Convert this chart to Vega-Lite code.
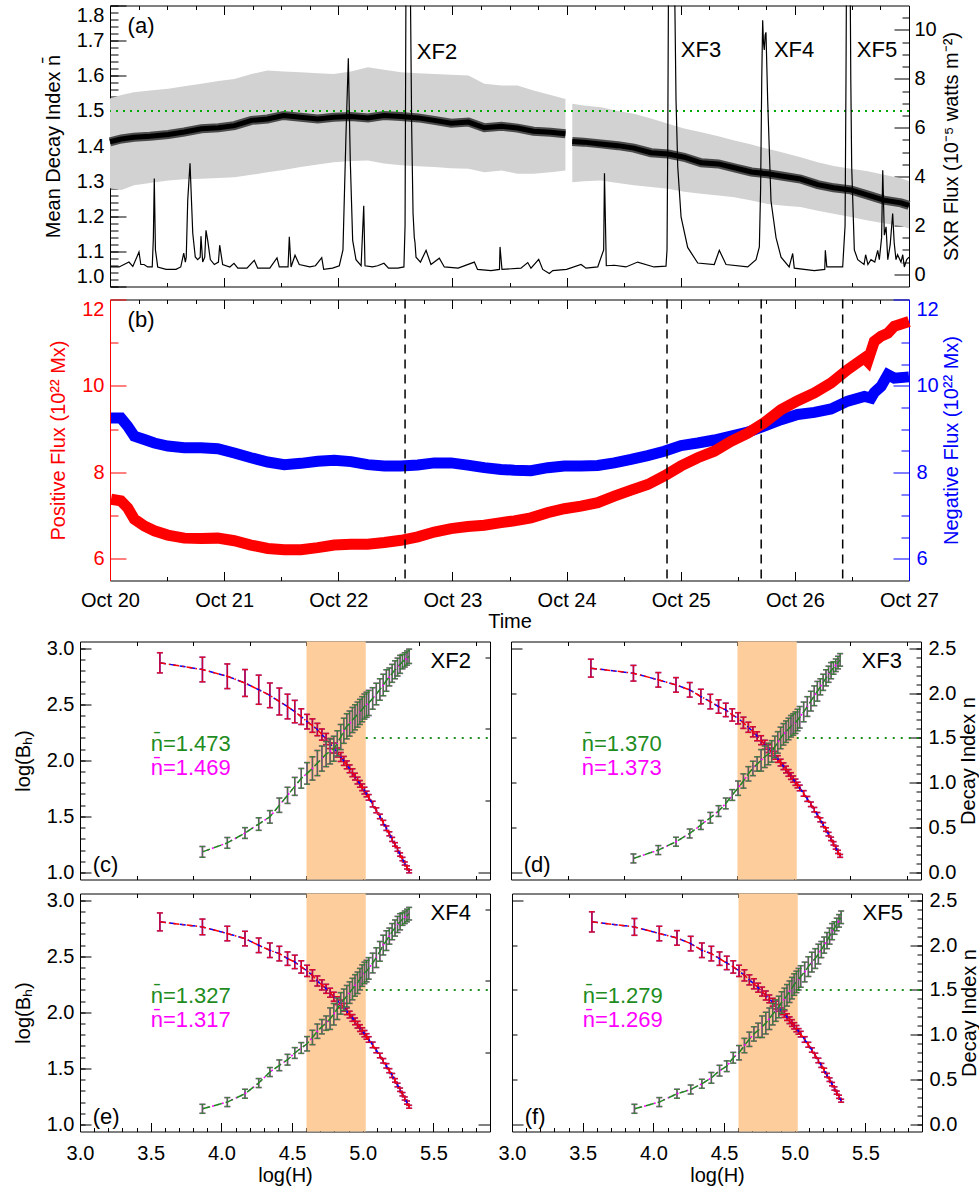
{
"$schema": "https://vega.github.io/schema/vega-lite/v6.json",
"padding": {"left": 5, "top": 4.5, "right": 3, "bottom": 5},
"config": {
  "font": "Liberation Sans",
  "view": {"stroke": "black", "strokeWidth": 1},
  "axis": {"grid": false, "domain": false, "labelFont": "Liberation Sans", "titleFont": "Liberation Sans", "labelFontSize": 20, "titleFontSize": 20, "titleFontWeight": "normal", "labelColor": "black", "titleColor": "black", "tickColor": "black", "tickWidth": 1, "labelBound": false, "labelOverlap": false},
  "text": {"font": "Liberation Sans"}
},
"datasets": {
"fa": [{"t":0,"m":1.412,"lo":1.28,"hi":1.535,"s":1},{"t":0.1,"m":1.42,"lo":1.275,"hi":1.545,"s":1},{"t":0.21,"m":1.425,"lo":1.288,"hi":1.553,"s":1},{"t":0.35,"m":1.428,"lo":1.295,"hi":1.558,"s":1},{"t":0.51,"m":1.433,"lo":1.302,"hi":1.563,"s":1},{"t":0.65,"m":1.44,"lo":1.305,"hi":1.57,"s":1},{"t":0.8,"m":1.449,"lo":1.307,"hi":1.577,"s":1},{"t":0.95,"m":1.452,"lo":1.309,"hi":1.585,"s":1},{"t":1.09,"m":1.458,"lo":1.311,"hi":1.591,"s":1},{"t":1.24,"m":1.473,"lo":1.318,"hi":1.605,"s":1},{"t":1.38,"m":1.477,"lo":1.325,"hi":1.615,"s":1},{"t":1.52,"m":1.487,"lo":1.332,"hi":1.612,"s":1},{"t":1.67,"m":1.482,"lo":1.34,"hi":1.61,"s":1},{"t":1.82,"m":1.477,"lo":1.347,"hi":1.607,"s":1},{"t":1.96,"m":1.482,"lo":1.354,"hi":1.605,"s":1},{"t":2.11,"m":1.484,"lo":1.357,"hi":1.612,"s":1},{"t":2.26,"m":1.48,"lo":1.359,"hi":1.624,"s":1},{"t":2.4,"m":1.487,"lo":1.35,"hi":1.617,"s":1},{"t":2.55,"m":1.484,"lo":1.345,"hi":1.61,"s":1},{"t":2.7,"m":1.48,"lo":1.342,"hi":1.607,"s":1},{"t":2.84,"m":1.473,"lo":1.34,"hi":1.605,"s":1},{"t":2.99,"m":1.465,"lo":1.337,"hi":1.603,"s":1},{"t":3.14,"m":1.468,"lo":1.335,"hi":1.601,"s":1},{"t":3.28,"m":1.452,"lo":1.325,"hi":1.577,"s":1},{"t":3.43,"m":1.456,"lo":1.33,"hi":1.572,"s":1},{"t":3.57,"m":1.451,"lo":1.321,"hi":1.572,"s":1},{"t":3.71,"m":1.442,"lo":1.321,"hi":1.558,"s":1},{"t":3.86,"m":1.439,"lo":1.325,"hi":1.545,"s":1},{"t":3.99,"m":1.435,"lo":1.33,"hi":1.534,"s":1},{"t":4.05,"m":1.413,"lo":1.297,"hi":1.52,"s":2},{"t":4.15,"m":1.411,"lo":1.3,"hi":1.515,"s":2},{"t":4.3,"m":1.406,"lo":1.302,"hi":1.51,"s":2},{"t":4.45,"m":1.401,"lo":1.295,"hi":1.5,"s":2},{"t":4.59,"m":1.394,"lo":1.288,"hi":1.492,"s":2},{"t":4.74,"m":1.381,"lo":1.283,"hi":1.478,"s":2},{"t":4.89,"m":1.377,"lo":1.278,"hi":1.463,"s":2},{"t":5.03,"m":1.368,"lo":1.27,"hi":1.45,"s":2},{"t":5.18,"m":1.352,"lo":1.264,"hi":1.439,"s":2},{"t":5.33,"m":1.349,"lo":1.259,"hi":1.428,"s":2},{"t":5.47,"m":1.338,"lo":1.254,"hi":1.416,"s":2},{"t":5.62,"m":1.326,"lo":1.245,"hi":1.404,"s":2},{"t":5.76,"m":1.321,"lo":1.235,"hi":1.392,"s":2},{"t":5.91,"m":1.313,"lo":1.23,"hi":1.38,"s":2},{"t":6.05,"m":1.306,"lo":1.226,"hi":1.368,"s":2},{"t":6.2,"m":1.29,"lo":1.216,"hi":1.354,"s":2},{"t":6.34,"m":1.281,"lo":1.207,"hi":1.343,"s":2},{"t":6.49,"m":1.275,"lo":1.198,"hi":1.335,"s":2},{"t":6.64,"m":1.26,"lo":1.188,"hi":1.328,"s":2},{"t":6.78,"m":1.246,"lo":1.18,"hi":1.318,"s":2},{"t":6.93,"m":1.238,"lo":1.172,"hi":1.308,"s":2},{"t":7,"m":1.231,"lo":1.165,"hi":1.3,"s":2}],
"sxr": [{"t":0,"f":0.3},{"t":0.08,"f":0.3},{"t":0.166,"f":0.5},{"t":0.2,"f":0.32},{"t":0.254,"f":0.91},{"t":0.27,"f":0.4},{"t":0.298,"f":0.4},{"t":0.33,"f":0.3},{"t":0.37,"f":0.3},{"t":0.38,"f":1.5},{"t":0.388,"f":3.92},{"t":0.398,"f":1.0},{"t":0.418,"f":0.3},{"t":0.491,"f":0.2},{"t":0.578,"f":0.2},{"t":0.62,"f":0.3},{"t":0.646,"f":0.87},{"t":0.66,"f":0.5},{"t":0.668,"f":0.7},{"t":0.681,"f":3.03},{"t":0.701,"f":4.54},{"t":0.725,"f":1.68},{"t":0.747,"f":0.71},{"t":0.768,"f":0.6},{"t":0.79,"f":0.7},{"t":0.797,"f":1.56},{"t":0.812,"f":0.5},{"t":0.83,"f":0.7},{"t":0.841,"f":1.8},{"t":0.856,"f":1.39},{"t":0.879,"f":0.6},{"t":0.914,"f":0.4},{"t":0.95,"f":0.5},{"t":0.961,"f":1.19},{"t":0.987,"f":0.4},{"t":1.05,"f":0.3},{"t":1.086,"f":0.45},{"t":1.12,"f":0.25},{"t":1.2,"f":0.25},{"t":1.264,"f":0.57},{"t":1.294,"f":0.25},{"t":1.4,"f":0.25},{"t":1.463,"f":0.67},{"t":1.483,"f":0.3},{"t":1.56,"f":0.3},{"t":1.571,"f":1.53},{"t":1.586,"f":0.3},{"t":1.621,"f":0.78},{"t":1.658,"f":0.4},{"t":1.75,"f":0.3},{"t":1.8,"f":0.35},{"t":1.855,"f":0.68},{"t":1.872,"f":0.2},{"t":1.95,"f":0.25},{"t":2.009,"f":0.35},{"t":2.041,"f":1.0},{"t":2.068,"f":5.8},{"t":2.088,"f":8.84},{"t":2.105,"f":4.67},{"t":2.126,"f":1.39},{"t":2.155,"f":0.6},{"t":2.2,"f":0.35},{"t":2.223,"f":2.8},{"t":2.234,"f":0.35},{"t":2.3,"f":0.3},{"t":2.345,"f":0.35},{"t":2.4,"f":0.45},{"t":2.44,"f":0.25},{"t":2.521,"f":0.25},{"t":2.575,"f":0.3},{"t":2.585,"f":2.0},{"t":2.593,"f":12},{"t":2.611,"f":16},{"t":2.631,"f":12},{"t":2.643,"f":6},{"t":2.655,"f":2.5},{"t":2.666,"f":1.5},{"t":2.672,"f":1.3},{"t":2.681,"f":0.7},{"t":2.72,"f":0.5},{"t":2.769,"f":0.98},{"t":2.812,"f":0.4},{"t":2.885,"f":0.66},{"t":2.929,"f":0.3},{"t":3.05,"f":0.25},{"t":3.192,"f":0.5},{"t":3.22,"f":0.2},{"t":3.338,"f":0.15},{"t":3.412,"f":0.2},{"t":3.417,"f":1.12},{"t":3.434,"f":0.2},{"t":3.6,"f":0.25},{"t":3.66,"f":0.48},{"t":3.688,"f":0.25},{"t":3.756,"f":0.61},{"t":3.791,"f":0.2},{"t":3.849,"f":0.03},{"t":3.879,"f":0.15},{"t":4.0,"f":0.2},{"t":4.127,"f":0.4},{"t":4.17,"f":0.25},{"t":4.273,"f":0.3},{"t":4.325,"f":1.0},{"t":4.332,"f":4.13},{"t":4.348,"f":0.35},{"t":4.418,"f":0.37},{"t":4.52,"f":0.3},{"t":4.623,"f":0.5},{"t":4.766,"f":0.3},{"t":4.871,"f":0.33},{"t":4.88,"f":1.0},{"t":4.886,"f":5.0},{"t":4.895,"f":14},{"t":4.915,"f":31},{"t":4.941,"f":14},{"t":4.959,"f":7.1},{"t":4.974,"f":4.4},{"t":5.003,"f":2.35},{"t":5.061,"f":1.1},{"t":5.149,"f":0.46},{"t":5.294,"f":0.4},{"t":5.338,"f":0.98},{"t":5.397,"f":0.4},{"t":5.587,"f":0.3},{"t":5.66,"f":0.6},{"t":5.689,"f":1.12},{"t":5.7,"f":3.5},{"t":5.71,"f":8.0},{"t":5.718,"f":10.4},{"t":5.725,"f":9.5},{"t":5.732,"f":9.18},{"t":5.74,"f":9.8},{"t":5.747,"f":9.9},{"t":5.762,"f":7.1},{"t":5.791,"f":3.0},{"t":5.835,"f":1.5},{"t":5.879,"f":0.7},{"t":5.95,"f":0.3},{"t":5.981,"f":0.85},{"t":5.995,"f":0.25},{"t":6.17,"f":0.15},{"t":6.262,"f":0.2},{"t":6.267,"f":0.98},{"t":6.28,"f":0.3},{"t":6.419,"f":0.3},{"t":6.44,"f":2.0},{"t":6.448,"f":8.0},{"t":6.46,"f":20},{"t":6.474,"f":20},{"t":6.49,"f":8.0},{"t":6.498,"f":4.4},{"t":6.521,"f":1.0},{"t":6.551,"f":0.6},{"t":6.606,"f":0.4},{"t":6.62,"f":0.8},{"t":6.64,"f":0.4},{"t":6.667,"f":0.6},{"t":6.7,"f":0.5},{"t":6.726,"f":0.98},{"t":6.74,"f":0.6},{"t":6.76,"f":1.5},{"t":6.77,"f":4.26},{"t":6.784,"f":1.6},{"t":6.799,"f":1.94},{"t":6.814,"f":0.6},{"t":6.835,"f":1.2},{"t":6.857,"f":2.49},{"t":6.87,"f":1.3},{"t":6.886,"f":0.6},{"t":6.9,"f":0.8},{"t":6.93,"f":0.5},{"t":6.945,"f":0.8},{"t":6.959,"f":0.3},{"t":6.98,"f":0.6},{"t":7,"f":0.7}],
"fb": [{"t":0.009,"pos":7.38,"neg":9.26},{"t":0.096,"pos":7.34,"neg":9.26},{"t":0.155,"pos":7.18,"neg":9.07},{"t":0.213,"pos":6.92,"neg":8.84},{"t":0.301,"pos":6.76,"neg":8.76},{"t":0.388,"pos":6.65,"neg":8.68},{"t":0.506,"pos":6.55,"neg":8.61},{"t":0.651,"pos":6.48,"neg":8.57},{"t":0.797,"pos":6.47,"neg":8.57},{"t":0.944,"pos":6.48,"neg":8.55},{"t":1.089,"pos":6.42,"neg":8.45},{"t":1.235,"pos":6.32,"neg":8.34},{"t":1.382,"pos":6.24,"neg":8.24},{"t":1.527,"pos":6.21,"neg":8.18},{"t":1.673,"pos":6.21,"neg":8.21},{"t":1.82,"pos":6.26,"neg":8.26},{"t":1.965,"pos":6.32,"neg":8.28},{"t":2.111,"pos":6.34,"neg":8.25},{"t":2.258,"pos":6.34,"neg":8.18},{"t":2.403,"pos":6.38,"neg":8.15},{"t":2.549,"pos":6.43,"neg":8.15},{"t":2.696,"pos":6.51,"neg":8.17},{"t":2.841,"pos":6.62,"neg":8.22},{"t":2.988,"pos":6.7,"neg":8.22},{"t":3.134,"pos":6.75,"neg":8.17},{"t":3.279,"pos":6.78,"neg":8.11},{"t":3.426,"pos":6.84,"neg":8.07},{"t":3.542,"pos":6.88,"neg":8.05},{"t":3.688,"pos":6.95,"neg":8.04},{"t":3.835,"pos":7.07,"neg":8.11},{"t":3.98,"pos":7.16,"neg":8.15},{"t":4.126,"pos":7.22,"neg":8.15},{"t":4.273,"pos":7.3,"neg":8.16},{"t":4.418,"pos":7.45,"neg":8.22},{"t":4.565,"pos":7.59,"neg":8.3},{"t":4.711,"pos":7.72,"neg":8.39},{"t":4.856,"pos":7.92,"neg":8.49},{"t":5.003,"pos":8.15,"neg":8.62},{"t":5.149,"pos":8.34,"neg":8.68},{"t":5.294,"pos":8.49,"neg":8.75},{"t":5.441,"pos":8.72,"neg":8.84},{"t":5.587,"pos":8.91,"neg":8.93},{"t":5.732,"pos":9.15,"neg":9.07},{"t":5.879,"pos":9.45,"neg":9.22},{"t":6.025,"pos":9.66,"neg":9.34},{"t":6.171,"pos":9.84,"neg":9.39},{"t":6.317,"pos":10.07,"neg":9.47},{"t":6.463,"pos":10.38,"neg":9.65},{"t":6.609,"pos":10.65,"neg":9.76},{"t":6.638,"pos":10.57,"neg":9.74},{"t":6.667,"pos":10.8,"neg":9.72},{"t":6.696,"pos":11.03,"neg":9.85},{"t":6.755,"pos":11.15,"neg":9.99},{"t":6.814,"pos":11.22,"neg":10.26},{"t":6.871,"pos":11.38,"neg":10.18},{"t":7,"pos":11.49,"neg":10.21}],
"pc": [{"h":3.565,"b":2.87,"be":0.09},{"h":3.866,"b":2.81,"be":0.11,"n":0.23,"ne":0.06},{"h":4.042,"b":2.75,"be":0.11,"n":0.33,"ne":0.06},{"h":4.167,"b":2.69,"be":0.12,"n":0.44,"ne":0.06},{"h":4.264,"b":2.63,"be":0.13,"n":0.54,"ne":0.07},{"h":4.343,"b":2.58,"be":0.11,"n":0.62,"ne":0.07},{"h":4.41,"b":2.525,"be":0.12,"n":0.75,"ne":0.08},{"h":4.468,"b":2.48,"be":0.11,"n":0.86,"ne":0.09},{"h":4.519,"b":2.435,"be":0.1,"n":0.96,"ne":0.1},{"h":4.565,"b":2.39,"be":0.07,"n":1.05,"ne":0.11},{"h":4.606,"b":2.345,"be":0.065,"n":1.105,"ne":0.12},{"h":4.644,"b":2.31,"be":0.06,"n":1.16,"ne":0.13},{"h":4.679,"b":2.275,"be":0.055,"n":1.22,"ne":0.14},{"h":4.711,"b":2.23,"be":0.05,"n":1.27,"ne":0.14},{"h":4.741,"b":2.19,"be":0.05,"n":1.32,"ne":0.14},{"h":4.769,"b":2.15,"be":0.045,"n":1.35,"ne":0.14},{"h":4.795,"b":2.11,"be":0.045,"n":1.38,"ne":0.14},{"h":4.82,"b":2.07,"be":0.04,"n":1.44,"ne":0.14},{"h":4.844,"b":2.03,"be":0.04,"n":1.51,"ne":0.14},{"h":4.866,"b":1.995,"be":0.04,"n":1.58,"ne":0.14},{"h":4.887,"b":1.96,"be":0.035,"n":1.63,"ne":0.14},{"h":4.907,"b":1.925,"be":0.035,"n":1.66,"ne":0.14},{"h":4.927,"b":1.89,"be":0.035,"n":1.7,"ne":0.14},{"h":4.945,"b":1.855,"be":0.03,"n":1.73,"ne":0.14},{"h":4.963,"b":1.82,"be":0.03,"n":1.76,"ne":0.14},{"h":4.98,"b":1.79,"be":0.03,"n":1.79,"ne":0.14},{"h":4.996,"b":1.76,"be":0.03,"n":1.82,"ne":0.14},{"h":5.012,"b":1.73,"be":0.03,"n":1.85,"ne":0.14},{"h":5.027,"b":1.7,"be":0.025,"n":1.87,"ne":0.14},{"h":5.042,"b":1.67,"be":0.025,"n":1.89,"ne":0.14},{"h":5.07,"b":1.61,"be":0.025,"n":1.94,"ne":0.12},{"h":5.096,"b":1.555,"be":0.022,"n":1.99,"ne":0.12},{"h":5.121,"b":1.5,"be":0.02,"n":2.04,"ne":0.12},{"h":5.145,"b":1.445,"be":0.02,"n":2.09,"ne":0.12},{"h":5.167,"b":1.395,"be":0.02,"n":2.14,"ne":0.12},{"h":5.188,"b":1.345,"be":0.018,"n":2.18,"ne":0.1},{"h":5.208,"b":1.295,"be":0.018,"n":2.22,"ne":0.1},{"h":5.228,"b":1.25,"be":0.016,"n":2.26,"ne":0.1},{"h":5.246,"b":1.205,"be":0.016,"n":2.29,"ne":0.1},{"h":5.264,"b":1.16,"be":0.015,"n":2.32,"ne":0.1},{"h":5.281,"b":1.12,"be":0.015,"n":2.35,"ne":0.08},{"h":5.297,"b":1.08,"be":0.014,"n":2.37,"ne":0.08},{"h":5.313,"b":1.045,"be":0.014,"n":2.39,"ne":0.08},{"h":5.328,"b":1.01,"be":0.013,"n":2.41,"ne":0.08}],
"pd": [{"h":3.565,"b":2.822,"be":0.08},{"h":3.866,"b":2.777,"be":0.07,"n":0.157,"ne":0.05},{"h":4.042,"b":2.718,"be":0.065,"n":0.25,"ne":0.05},{"h":4.167,"b":2.673,"be":0.065,"n":0.343,"ne":0.05},{"h":4.264,"b":2.629,"be":0.065,"n":0.435,"ne":0.05},{"h":4.343,"b":2.569,"be":0.065,"n":0.53,"ne":0.05},{"h":4.41,"b":2.524,"be":0.065,"n":0.61,"ne":0.06},{"h":4.468,"b":2.48,"be":0.06,"n":0.685,"ne":0.06},{"h":4.519,"b":2.45,"be":0.06,"n":0.77,"ne":0.06},{"h":4.565,"b":2.405,"be":0.055,"n":0.864,"ne":0.06},{"h":4.606,"b":2.375,"be":0.05,"n":0.94,"ne":0.08},{"h":4.644,"b":2.335,"be":0.05,"n":1.02,"ne":0.08},{"h":4.679,"b":2.295,"be":0.045,"n":1.1,"ne":0.08},{"h":4.711,"b":2.255,"be":0.045,"n":1.16,"ne":0.08},{"h":4.741,"b":2.215,"be":0.04,"n":1.21,"ne":0.08},{"h":4.769,"b":2.18,"be":0.04,"n":1.25,"ne":0.12},{"h":4.795,"b":2.14,"be":0.04,"n":1.29,"ne":0.12},{"h":4.82,"b":2.105,"be":0.035,"n":1.32,"ne":0.12},{"h":4.844,"b":2.075,"be":0.035,"n":1.35,"ne":0.12},{"h":4.866,"b":2.045,"be":0.035,"n":1.4,"ne":0.12},{"h":4.887,"b":2.012,"be":0.03,"n":1.45,"ne":0.12},{"h":4.907,"b":1.98,"be":0.03,"n":1.5,"ne":0.12},{"h":4.927,"b":1.948,"be":0.03,"n":1.54,"ne":0.12},{"h":4.945,"b":1.918,"be":0.03,"n":1.57,"ne":0.12},{"h":4.963,"b":1.888,"be":0.03,"n":1.6,"ne":0.12},{"h":4.98,"b":1.86,"be":0.03,"n":1.63,"ne":0.12},{"h":4.996,"b":1.833,"be":0.028,"n":1.65,"ne":0.12},{"h":5.012,"b":1.805,"be":0.028,"n":1.67,"ne":0.12},{"h":5.027,"b":1.78,"be":0.025,"n":1.7,"ne":0.12},{"h":5.042,"b":1.754,"be":0.025,"n":1.73,"ne":0.12},{"h":5.07,"b":1.705,"be":0.025,"n":1.79,"ne":0.11},{"h":5.096,"b":1.656,"be":0.022,"n":1.85,"ne":0.11},{"h":5.121,"b":1.608,"be":0.02,"n":1.91,"ne":0.11},{"h":5.145,"b":1.56,"be":0.02,"n":1.97,"ne":0.11},{"h":5.167,"b":1.515,"be":0.02,"n":2.02,"ne":0.11},{"h":5.188,"b":1.47,"be":0.018,"n":2.07,"ne":0.09},{"h":5.208,"b":1.427,"be":0.018,"n":2.12,"ne":0.09},{"h":5.228,"b":1.383,"be":0.016,"n":2.17,"ne":0.09},{"h":5.246,"b":1.342,"be":0.016,"n":2.21,"ne":0.09},{"h":5.264,"b":1.3,"be":0.015,"n":2.25,"ne":0.09},{"h":5.281,"b":1.26,"be":0.015,"n":2.28,"ne":0.07},{"h":5.297,"b":1.222,"be":0.014,"n":2.31,"ne":0.07},{"h":5.313,"b":1.184,"be":0.014,"n":2.34,"ne":0.07},{"h":5.328,"b":1.148,"be":0.013,"n":2.37,"ne":0.07}],
"pe": [{"h":3.565,"b":2.807,"be":0.08},{"h":3.866,"b":2.762,"be":0.07,"n":0.175,"ne":0.05},{"h":4.042,"b":2.703,"be":0.065,"n":0.25,"ne":0.05},{"h":4.167,"b":2.658,"be":0.065,"n":0.343,"ne":0.05},{"h":4.264,"b":2.598,"be":0.065,"n":0.462,"ne":0.05},{"h":4.343,"b":2.554,"be":0.065,"n":0.585,"ne":0.05},{"h":4.41,"b":2.524,"be":0.065,"n":0.66,"ne":0.06},{"h":4.468,"b":2.479,"be":0.06,"n":0.722,"ne":0.06},{"h":4.519,"b":2.45,"be":0.06,"n":0.797,"ne":0.06},{"h":4.565,"b":2.405,"be":0.055,"n":0.853,"ne":0.06},{"h":4.606,"b":2.37,"be":0.05,"n":0.9,"ne":0.08},{"h":4.644,"b":2.33,"be":0.05,"n":0.97,"ne":0.08},{"h":4.679,"b":2.28,"be":0.045,"n":1.04,"ne":0.08},{"h":4.711,"b":2.245,"be":0.045,"n":1.09,"ne":0.08},{"h":4.741,"b":2.21,"be":0.04,"n":1.13,"ne":0.08},{"h":4.769,"b":2.175,"be":0.04,"n":1.18,"ne":0.12},{"h":4.795,"b":2.14,"be":0.04,"n":1.23,"ne":0.12},{"h":4.82,"b":2.105,"be":0.035,"n":1.29,"ne":0.12},{"h":4.844,"b":2.075,"be":0.035,"n":1.35,"ne":0.12},{"h":4.866,"b":2.045,"be":0.035,"n":1.39,"ne":0.12},{"h":4.887,"b":2.01,"be":0.03,"n":1.43,"ne":0.12},{"h":4.907,"b":1.98,"be":0.03,"n":1.47,"ne":0.12},{"h":4.927,"b":1.95,"be":0.03,"n":1.51,"ne":0.12},{"h":4.945,"b":1.92,"be":0.03,"n":1.55,"ne":0.12},{"h":4.963,"b":1.89,"be":0.03,"n":1.58,"ne":0.12},{"h":4.98,"b":1.86,"be":0.03,"n":1.62,"ne":0.12},{"h":4.996,"b":1.835,"be":0.028,"n":1.66,"ne":0.12},{"h":5.012,"b":1.81,"be":0.028,"n":1.69,"ne":0.12},{"h":5.027,"b":1.785,"be":0.025,"n":1.71,"ne":0.12},{"h":5.042,"b":1.758,"be":0.025,"n":1.74,"ne":0.12},{"h":5.07,"b":1.71,"be":0.025,"n":1.8,"ne":0.11},{"h":5.096,"b":1.662,"be":0.022,"n":1.86,"ne":0.11},{"h":5.121,"b":1.615,"be":0.02,"n":1.93,"ne":0.11},{"h":5.145,"b":1.568,"be":0.02,"n":2.0,"ne":0.11},{"h":5.167,"b":1.523,"be":0.02,"n":2.05,"ne":0.11},{"h":5.188,"b":1.48,"be":0.018,"n":2.1,"ne":0.09},{"h":5.208,"b":1.437,"be":0.018,"n":2.15,"ne":0.09},{"h":5.228,"b":1.393,"be":0.016,"n":2.19,"ne":0.09},{"h":5.246,"b":1.352,"be":0.016,"n":2.23,"ne":0.09},{"h":5.264,"b":1.31,"be":0.015,"n":2.26,"ne":0.09},{"h":5.281,"b":1.27,"be":0.015,"n":2.29,"ne":0.07},{"h":5.297,"b":1.232,"be":0.014,"n":2.31,"ne":0.07},{"h":5.313,"b":1.195,"be":0.014,"n":2.33,"ne":0.07},{"h":5.328,"b":1.158,"be":0.013,"n":2.35,"ne":0.07}],
"pf": [{"h":3.565,"b":2.807,"be":0.09},{"h":3.866,"b":2.762,"be":0.075,"n":0.175,"ne":0.05},{"h":4.042,"b":2.703,"be":0.065,"n":0.25,"ne":0.05},{"h":4.167,"b":2.664,"be":0.065,"n":0.343,"ne":0.05},{"h":4.264,"b":2.613,"be":0.065,"n":0.39,"ne":0.05},{"h":4.343,"b":2.554,"be":0.065,"n":0.454,"ne":0.05},{"h":4.41,"b":2.524,"be":0.065,"n":0.52,"ne":0.06},{"h":4.468,"b":2.479,"be":0.06,"n":0.6,"ne":0.06},{"h":4.519,"b":2.441,"be":0.06,"n":0.65,"ne":0.06},{"h":4.565,"b":2.405,"be":0.055,"n":0.744,"ne":0.06},{"h":4.606,"b":2.37,"be":0.05,"n":0.8,"ne":0.08},{"h":4.644,"b":2.33,"be":0.05,"n":0.88,"ne":0.08},{"h":4.679,"b":2.29,"be":0.045,"n":0.95,"ne":0.08},{"h":4.711,"b":2.255,"be":0.045,"n":1.01,"ne":0.08},{"h":4.741,"b":2.22,"be":0.04,"n":1.05,"ne":0.08},{"h":4.769,"b":2.185,"be":0.04,"n":1.09,"ne":0.12},{"h":4.795,"b":2.15,"be":0.04,"n":1.13,"ne":0.12},{"h":4.82,"b":2.12,"be":0.035,"n":1.18,"ne":0.12},{"h":4.844,"b":2.09,"be":0.035,"n":1.23,"ne":0.12},{"h":4.866,"b":2.065,"be":0.035,"n":1.27,"ne":0.12},{"h":4.887,"b":2.04,"be":0.03,"n":1.31,"ne":0.12},{"h":4.907,"b":2.01,"be":0.03,"n":1.36,"ne":0.12},{"h":4.927,"b":1.985,"be":0.03,"n":1.4,"ne":0.12},{"h":4.945,"b":1.958,"be":0.03,"n":1.44,"ne":0.12},{"h":4.963,"b":1.93,"be":0.03,"n":1.48,"ne":0.12},{"h":4.98,"b":1.905,"be":0.03,"n":1.52,"ne":0.12},{"h":4.996,"b":1.88,"be":0.028,"n":1.56,"ne":0.12},{"h":5.012,"b":1.855,"be":0.028,"n":1.59,"ne":0.12},{"h":5.027,"b":1.83,"be":0.025,"n":1.62,"ne":0.12},{"h":5.042,"b":1.806,"be":0.025,"n":1.65,"ne":0.12},{"h":5.07,"b":1.758,"be":0.025,"n":1.7,"ne":0.11},{"h":5.096,"b":1.711,"be":0.022,"n":1.76,"ne":0.11},{"h":5.121,"b":1.664,"be":0.02,"n":1.81,"ne":0.11},{"h":5.145,"b":1.616,"be":0.02,"n":1.85,"ne":0.11},{"h":5.167,"b":1.571,"be":0.02,"n":1.9,"ne":0.11},{"h":5.188,"b":1.527,"be":0.018,"n":1.95,"ne":0.09},{"h":5.208,"b":1.484,"be":0.018,"n":2.0,"ne":0.09},{"h":5.228,"b":1.44,"be":0.016,"n":2.05,"ne":0.09},{"h":5.246,"b":1.4,"be":0.016,"n":2.1,"ne":0.09},{"h":5.264,"b":1.36,"be":0.015,"n":2.15,"ne":0.09},{"h":5.281,"b":1.321,"be":0.015,"n":2.19,"ne":0.07},{"h":5.297,"b":1.284,"be":0.014,"n":2.23,"ne":0.07},{"h":5.313,"b":1.247,"be":0.014,"n":2.27,"ne":0.07},{"h":5.328,"b":1.212,"be":0.013,"n":2.31,"ne":0.07}]
},
"spacing": 5,
"vconcat": [
 {"spacing": 10, "vconcat": [
  {"spacing": 10, "hconcat": [
   {"width": 27, "height": 10, "data": {"values": [{}]}, "mark": {"type": "text", "text": ""}, "view": {"stroke": null, "fill": "white"}},
   {"width": 799, "height": 281,
    "layer": [
     {"layer": [
      {"data": {"name": "fa"}, "mark": {"type": "area", "color": "#d2d2d2"},
       "encoding": {
        "x": {"field": "t", "type": "quantitative", "scale": {"domain": [0, 7], "nice": false, "zero": false},
              "axis": {"orient": "bottom", "values": [0,0.25,0.5,0.75,1,1.25,1.5,1.75,2,2.25,2.5,2.75,3,3.25,3.5,3.75,4,4.25,4.5,4.75,5,5.25,5.5,5.75,6,6.25,6.5,6.75,7], "labels": false, "title": null, "tickSize": {"condition": {"test": "datum.value % 1 == 0", "value": -9}, "value": -4}, "minExtent": 0, "maxExtent": 0}},
        "y": {"field": "lo", "type": "quantitative", "scale": {"domain": [1.0, 1.8], "nice": false, "zero": false},
              "axis": {"orient": "left", "values": [1,1.2,1.4,1.6,1.8], "format": ".1f", "title": "Mean Decay Index n\u0304", "tickSize": -16, "labelPadding": 22, "labelFlush": true, "labelOverlap": false, "minExtent": 36, "maxExtent": 36, "titlePadding": 11}},
        "y2": {"field": "hi"},
        "detail": {"field": "s", "type": "nominal"}}},
      {"data": {"name": "fa"}, "mark": {"type": "line", "color": "#4a4a4a", "strokeWidth": 9},
       "encoding": {"x": {"field": "t", "type": "quantitative"}, "y": {"field": "m", "type": "quantitative"}, "detail": {"field": "s", "type": "nominal"}}},
      {"data": {"name": "fa"}, "mark": {"type": "line", "color": "black", "strokeWidth": 5},
       "encoding": {"x": {"field": "t", "type": "quantitative"}, "y": {"field": "m", "type": "quantitative"}, "detail": {"field": "s", "type": "nominal"}}},
      {"data": {"values": [{"y": 1.5}]}, "mark": {"type": "rule", "color": "#00aa00", "strokeWidth": 2, "strokeDash": [2, 5]},
       "encoding": {"y": {"field": "y", "type": "quantitative"}}},
      {"data": {"values": [{"t": 0.272, "v": 1.743, "s": "(a)"}, {"t": 2.865, "v": 1.669, "s": "XF2"}, {"t": 5.178, "v": 1.672, "s": "XF3"}, {"t": 5.993, "v": 1.672, "s": "XF4"}, {"t": 6.72, "v": 1.672, "s": "XF5"}]},
       "mark": {"type": "text", "fontSize": 22, "align": "center", "baseline": "middle", "color": "black"},
       "encoding": {"x": {"field": "t", "type": "quantitative"}, "y": {"field": "v", "type": "quantitative"}, "text": {"field": "s"}}}
     ]},
     {"data": {"name": "sxr"}, "mark": {"type": "line", "color": "black", "strokeWidth": 1.2, "clip": true},
      "encoding": {
       "x": {"field": "t", "type": "quantitative", "scale": {"domain": [0, 7], "nice": false, "zero": false},
             "axis": {"orient": "top", "values": [0,0.25,0.5,0.75,1,1.25,1.5,1.75,2,2.25,2.5,2.75,3,3.25,3.5,3.75,4,4.25,4.5,4.75,5,5.25,5.5,5.75,6,6.25,6.5,6.75,7], "labels": false, "title": null, "tickSize": {"condition": {"test": "datum.value % 1 == 0", "value": -9}, "value": -4}, "minExtent": 0, "maxExtent": 0}},
       "y": {"field": "f", "type": "quantitative", "scale": {"domain": [-0.5, 11], "nice": false, "zero": false},
             "axis": {"orient": "right", "values": [0,0.5,1,1.5,2,2.5,3,3.5,4,4.5,5,5.5,6,6.5,7,7.5,8,8.5,9,9.5,10,10.5], "title": "SXR Flux (10\u207b\u2075 watts m\u207b\u00b2)", "titleAngle": 270, "titleBaseline": "top", "tickSize": {"condition": {"test": "datum.value % 2 == 0", "value": -15}, "value": -7}, "labelPadding": 20, "labelExpr": "datum.value % 2 == 0 ? format(datum.value, '.0f') : ''", "labelOverlap": false, "minExtent": 28, "maxExtent": 28, "titlePadding": 4}}}},
     {"data": {"name": "fa"}, "mark": {"type": "point", "opacity": 0},
      "encoding": {
       "x": {"field": "t", "type": "quantitative", "scale": {"domain": [0, 7], "nice": false, "zero": false}, "axis": null},
       "y": {"field": "m", "type": "quantitative", "scale": {"domain": [1.0, 1.8], "nice": false, "zero": false},
             "axis": {"orient": "left", "values": [1,1.02,1.04,1.06,1.08,1.1,1.12,1.14,1.16,1.18,1.2,1.22,1.24,1.26,1.28,1.3,1.32,1.34,1.36,1.38,1.4,1.42,1.44,1.46,1.48,1.5,1.52,1.54,1.56,1.58,1.6,1.62,1.64,1.66,1.68,1.7,1.72,1.74,1.76,1.78,1.8], "labels": false, "title": null, "tickSize": -8, "minExtent": 0, "maxExtent": 0}}}},
     {"data": {"name": "fa"}, "mark": {"type": "point", "opacity": 0},
      "encoding": {
       "x": {"field": "t", "type": "quantitative", "scale": {"domain": [0, 7], "nice": false, "zero": false}, "axis": null},
       "y": {"field": "m", "type": "quantitative", "scale": {"domain": [1.0, 1.8], "nice": false, "zero": false},
             "axis": {"orient": "left", "values": [1.1,1.3,1.5,1.7], "format": ".1f", "title": null, "tickSize": -16, "labelPadding": 22, "labelFlush": false, "labelOverlap": false, "minExtent": 36, "maxExtent": 36}}}}
    ],
    "resolve": {"scale": {"y": "independent"}, "axis": {"x": "independent", "y": "independent"}}}
  ]},
  {"spacing": 10, "hconcat": [
   {"width": 32, "height": 10, "data": {"values": [{}]}, "mark": {"type": "text", "text": ""}, "view": {"stroke": null, "fill": "white"}},
   {"width": 799, "height": 281,
    "layer": [
     {"data": {"name": "fb"}, "mark": {"type": "line", "color": "#0000ff", "strokeWidth": 11},
      "encoding": {
       "x": {"field": "t", "type": "quantitative", "scale": {"domain": [0, 7], "nice": false, "zero": false},
             "axis": {"orient": "top", "values": [0,0.25,0.5,0.75,1,1.25,1.5,1.75,2,2.25,2.5,2.75,3,3.25,3.5,3.75,4,4.25,4.5,4.75,5,5.25,5.5,5.75,6,6.25,6.5,6.75,7], "labels": false, "title": null, "tickSize": {"condition": {"test": "datum.value % 1 == 0", "value": -9}, "value": -4}, "minExtent": 0, "maxExtent": 0}},
       "y": {"field": "neg", "type": "quantitative", "scale": {"domain": [5.5, 12], "nice": false, "zero": false},
             "axis": {"orient": "right", "values": [6,6.5,7,7.5,8,8.5,9,9.5,10,10.5,11,11.5,12], "title": "Negative Flux (10\u00b2\u00b2 Mx)", "titleAngle": 270, "titleBaseline": "top", "titleColor": "#0000ff", "labelColor": "#0000ff", "tickColor": "#0000ff", "domain": true, "domainColor": "#0000ff", "tickSize": {"condition": {"test": "datum.value % 2 == 0", "value": -16}, "value": -8}, "labelPadding": 23, "labelExpr": "datum.value % 2 == 0 ? format(datum.value, '.0f') : ''", "labelFlush": true, "labelOverlap": false, "minExtent": 30, "maxExtent": 30, "titlePadding": 2}}}},
     {"layer": [
      {"data": {"name": "fb"}, "mark": {"type": "line", "color": "#ff0000", "strokeWidth": 11},
       "encoding": {
        "x": {"field": "t", "type": "quantitative", "scale": {"domain": [0, 7], "nice": false, "zero": false},
              "axis": {"orient": "bottom", "values": [0,0.25,0.5,0.75,1,1.25,1.5,1.75,2,2.25,2.5,2.75,3,3.25,3.5,3.75,4,4.25,4.5,4.75,5,5.25,5.5,5.75,6,6.25,6.5,6.75,7], "labelExpr": "datum.value % 1 == 0 ? 'Oct ' + (20 + datum.value) : ''", "labelFlush": false, "labelOverlap": false, "title": "Time", "tickSize": {"condition": {"test": "datum.value % 1 == 0", "value": -9}, "value": -4}, "labelPadding": 19, "minExtent": 30, "maxExtent": 30, "titlePadding": 1.3}},
        "y": {"field": "pos", "type": "quantitative", "scale": {"domain": [5.5, 12], "nice": false, "zero": false},
              "axis": {"orient": "left", "values": [6,6.5,7,7.5,8,8.5,9,9.5,10,10.5,11,11.5,12], "title": "Positive Flux (10\u00b2\u00b2 Mx)", "titleColor": "#ff0000", "labelColor": "#ff0000", "tickColor": "#ff0000", "domain": true, "domainColor": "#ff0000", "tickSize": {"condition": {"test": "datum.value % 2 == 0", "value": -16}, "value": -8}, "labelPadding": 22, "labelExpr": "datum.value % 2 == 0 ? format(datum.value, '.0f') : ''", "labelFlush": true, "labelOverlap": false, "minExtent": 32, "maxExtent": 32, "titlePadding": 10}}}},
      {"data": {"values": [{"t": 2.585}, {"t": 4.88}, {"t": 5.705}, {"t": 6.419}]}, "mark": {"type": "rule", "color": "black", "strokeWidth": 1.5, "strokeDash": [9, 6]},
       "encoding": {"x": {"field": "t", "type": "quantitative"}}},
      {"data": {"values": [{"t": 0.272, "v": 11.53, "s": "(b)"}]}, "mark": {"type": "text", "fontSize": 22, "align": "center", "baseline": "middle", "color": "black"},
       "encoding": {"x": {"field": "t", "type": "quantitative"}, "y": {"field": "v", "type": "quantitative"}, "text": {"field": "s"}}}
     ]}
    ],
    "resolve": {"scale": {"y": "independent"}, "axis": {"x": "independent", "y": "independent"}}}
  ]}
 ]},
 {"spacing": 6, "vconcat": [
  {"spacing": 4, "hconcat": [
   {"width": 3, "height": 10, "data": {"values": [{}]}, "mark": {"type": "text", "text": ""}, "view": {"stroke": null, "fill": "white"}},
   {"spacing": 18, "hconcat": [
   {"width": 410, "height": 238,
    "layer": [
     {"layer": [
      {"data": {"values": [{"x1": 4.602, "x2": 5.021}]}, "mark": {"type": "rect", "color": "#fdcd9b"},
       "encoding": {"x": {"field": "x1", "type": "quantitative", "scale": {"domain": [3.0, 5.9], "nice": false, "zero": false},
         "axis": {"orient": "bottom", "values": [3,3.1,3.2,3.3,3.4,3.5,3.6,3.7,3.8,3.9,4,4.1,4.2,4.3,4.4,4.5,4.6,4.7,4.8,4.9,5,5.1,5.2,5.3,5.4,5.5,5.6,5.7,5.8], "labels": false, "title": null, "tickSize": {"condition": {"test": "abs(datum.value*2-round(datum.value*2))<0.01", "value": -9}, "value": -4}, "minExtent": 0, "maxExtent": 0}},
        "x2": {"field": "x2"}}},
      {"data": {"name": "pc"}, "mark": {"type": "errorbar", "color": "#0000ff", "thickness": 1.5, "ticks": {"size": 6, "thickness": 1.5}},
       "encoding": {"x": {"field": "h", "type": "quantitative"},
        "y": {"field": "b", "type": "quantitative", "scale": {"domain": [0.9375, 3.06], "nice": false, "zero": false},
          "axis": {"orient": "left", "values": [1,1.5,2,2.5,3], "format": ".1f", "title": "log(B\u2095)", "labelOverlap": false, "tickSize": -11, "labelPadding": 17, "minExtent": 36, "maxExtent": 36, "titlePadding": 11}},
        "yError": {"field": "be"}}},
      {"data": {"name": "pc"}, "mark": {"type": "errorbar", "color": "#ff0000", "opacity": 0.8, "thickness": 1.5, "ticks": {"size": 6, "thickness": 1.5}},
       "encoding": {"x": {"field": "h", "type": "quantitative"}, "y": {"field": "b", "type": "quantitative", "title": "log(B\u2095)"}, "yError": {"field": "be"}}},
      {"data": {"name": "pc"}, "mark": {"type": "line", "color": "#0000ff", "strokeWidth": 1.5, "strokeDash": [6, 4]},
       "encoding": {"x": {"field": "h", "type": "quantitative"}, "y": {"field": "b", "type": "quantitative"}}},
      {"data": {"name": "pc"}, "mark": {"type": "line", "color": "#ff0000", "strokeWidth": 1.5, "strokeDash": [6, 3, 1.5, 3]},
       "encoding": {"x": {"field": "h", "type": "quantitative"}, "y": {"field": "b", "type": "quantitative"}}},
      {"data": {"values": [{"h": 3.09, "v": 1.065, "s": "(c)", "c": "k"}, {"h": 5.48, "v": 2.89, "s": "XF2", "c": "k"}, {"h": 3.5, "v": 2.148, "s": "n\u0304=1.473", "c": "g"}, {"h": 3.5, "v": 1.928, "s": "n\u0304=1.469", "c": "m"}]},
       "mark": {"type": "text", "fontSize": 22, "align": "left", "baseline": "middle"},
       "encoding": {"x": {"field": "h", "type": "quantitative"}, "y": {"field": "v", "type": "quantitative"}, "text": {"field": "s"},
        "color": {"field": "c", "type": "nominal", "scale": {"domain": ["k", "g", "m"], "range": ["black", "#1e8c1e", "#ff00ff"]}, "legend": null}}}
     ]},
     {"layer": [
      {"data": {"name": "pc"}, "mark": {"type": "errorbar", "color": "#ff00ff", "thickness": 1.5, "ticks": {"size": 6, "thickness": 1.5}},
       "encoding": {"x": {"field": "h", "type": "quantitative", "scale": {"domain": [3.0, 5.9], "nice": false, "zero": false},
         "axis": {"orient": "top", "values": [3,3.1,3.2,3.3,3.4,3.5,3.6,3.7,3.8,3.9,4,4.1,4.2,4.3,4.4,4.5,4.6,4.7,4.8,4.9,5,5.1,5.2,5.3,5.4,5.5,5.6,5.7,5.8], "labels": false, "title": null, "tickSize": {"condition": {"test": "abs(datum.value*2-round(datum.value*2))<0.01", "value": -9}, "value": -4}, "minExtent": 0, "maxExtent": 0}},
        "y": {"field": "n", "type": "quantitative", "title": null, "scale": {"domain": [-0.078, 2.575], "nice": false, "zero": false},
         "axis": {"orient": "right", "values": [0,0.1,0.2,0.3,0.4,0.5,0.6,0.7,0.8,0.9,1,1.1,1.2,1.3,1.4,1.5,1.6,1.7,1.8,1.9,2,2.1,2.2,2.3,2.4,2.5], "labels": false, "title": null, "tickSize": {"condition": {"test": "abs(datum.value*2-round(datum.value*2))<0.01", "value": -12}, "value": -5}, "minExtent": 0, "maxExtent": 0}},
        "yError": {"field": "ne"}}},
      {"data": {"name": "pc"}, "mark": {"type": "errorbar", "color": "#1e8c1e", "opacity": 0.8, "thickness": 1.5, "ticks": {"size": 6, "thickness": 1.5}},
       "encoding": {"x": {"field": "h", "type": "quantitative"}, "y": {"field": "n", "type": "quantitative", "title": null}, "yError": {"field": "ne"}}},
      {"data": {"name": "pc"}, "mark": {"type": "line", "color": "#ff00ff", "strokeWidth": 1.5, "strokeDash": [2, 3]},
       "encoding": {"x": {"field": "h", "type": "quantitative"}, "y": {"field": "n", "type": "quantitative"}}},
      {"data": {"name": "pc"}, "mark": {"type": "line", "color": "#1e8c1e", "strokeWidth": 1.5, "strokeDash": [8, 4]},
       "encoding": {"x": {"field": "h", "type": "quantitative"}, "y": {"field": "n", "type": "quantitative"}}},
      {"data": {"values": [{"a": 5.021, "b": 5.9, "n": 1.5}]}, "mark": {"type": "rule", "color": "#1e8c1e", "strokeWidth": 2, "strokeDash": [2, 6]},
       "encoding": {"x": {"field": "a", "type": "quantitative"}, "x2": {"field": "b"}, "y": {"field": "n", "type": "quantitative"}}}
     ]},
     {"data": {"name": "pc"}, "mark": {"type": "point", "opacity": 0},
      "encoding": {
       "x": {"field": "h", "type": "quantitative", "scale": {"domain": [3.0, 5.9], "nice": false, "zero": false}, "axis": null},
       "y": {"field": "b", "type": "quantitative", "scale": {"domain": [0.9375, 3.06], "nice": false, "zero": false},
             "axis": {"orient": "left", "values": [1,1.1,1.2,1.3,1.4,1.5,1.6,1.7,1.8,1.9,2,2.1,2.2,2.3,2.4,2.5,2.6,2.7,2.8,2.9,3], "labels": false, "title": null, "tickSize": -5, "minExtent": 0, "maxExtent": 0}}}}
    ],
    "resolve": {"scale": {"y": "independent"}, "axis": {"x": "independent", "y": "independent"}}},
   {"width": 410, "height": 238,
    "layer": [
     {"layer": [
      {"data": {"values": [{"x1": 4.602, "x2": 5.021}]}, "mark": {"type": "rect", "color": "#fdcd9b"},
       "encoding": {"x": {"field": "x1", "type": "quantitative", "scale": {"domain": [3.0, 5.9], "nice": false, "zero": false},
         "axis": {"orient": "bottom", "values": [3,3.1,3.2,3.3,3.4,3.5,3.6,3.7,3.8,3.9,4,4.1,4.2,4.3,4.4,4.5,4.6,4.7,4.8,4.9,5,5.1,5.2,5.3,5.4,5.5,5.6,5.7,5.8], "labels": false, "title": null, "tickSize": {"condition": {"test": "abs(datum.value*2-round(datum.value*2))<0.01", "value": -9}, "value": -4}, "minExtent": 0, "maxExtent": 0}},
        "x2": {"field": "x2"}}},
      {"data": {"name": "pd"}, "mark": {"type": "errorbar", "color": "#0000ff", "thickness": 1.5, "ticks": {"size": 6, "thickness": 1.5}},
       "encoding": {"x": {"field": "h", "type": "quantitative"},
        "y": {"field": "b", "type": "quantitative", "title": null, "scale": {"domain": [0.9375, 3.06], "nice": false, "zero": false},
          "axis": {"orient": "left", "values": [1,1.1,1.2,1.3,1.4,1.5,1.6,1.7,1.8,1.9,2,2.1,2.2,2.3,2.4,2.5,2.6,2.7,2.8,2.9,3], "labels": false, "title": null, "tickSize": {"condition": {"test": "abs(datum.value*2-round(datum.value*2))<0.01", "value": -11}, "value": -5}, "minExtent": 0, "maxExtent": 0}},
        "yError": {"field": "be"}}},
      {"data": {"name": "pd"}, "mark": {"type": "errorbar", "color": "#ff0000", "opacity": 0.8, "thickness": 1.5, "ticks": {"size": 6, "thickness": 1.5}},
       "encoding": {"x": {"field": "h", "type": "quantitative"}, "y": {"field": "b", "type": "quantitative", "title": null}, "yError": {"field": "be"}}},
      {"data": {"name": "pd"}, "mark": {"type": "line", "color": "#0000ff", "strokeWidth": 1.5, "strokeDash": [6, 4]},
       "encoding": {"x": {"field": "h", "type": "quantitative"}, "y": {"field": "b", "type": "quantitative"}}},
      {"data": {"name": "pd"}, "mark": {"type": "line", "color": "#ff0000", "strokeWidth": 1.5, "strokeDash": [6, 3, 1.5, 3]},
       "encoding": {"x": {"field": "h", "type": "quantitative"}, "y": {"field": "b", "type": "quantitative"}}},
      {"data": {"values": [{"h": 3.09, "v": 1.065, "s": "(d)", "c": "k"}, {"h": 5.48, "v": 2.89, "s": "XF3", "c": "k"}, {"h": 3.5, "v": 2.148, "s": "n\u0304=1.370", "c": "g"}, {"h": 3.5, "v": 1.928, "s": "n\u0304=1.373", "c": "m"}]},
       "mark": {"type": "text", "fontSize": 22, "align": "left", "baseline": "middle"},
       "encoding": {"x": {"field": "h", "type": "quantitative"}, "y": {"field": "v", "type": "quantitative"}, "text": {"field": "s"},
        "color": {"field": "c", "type": "nominal", "scale": {"domain": ["k", "g", "m"], "range": ["black", "#1e8c1e", "#ff00ff"]}, "legend": null}}}
     ]},
     {"layer": [
      {"data": {"name": "pd"}, "mark": {"type": "errorbar", "color": "#ff00ff", "thickness": 1.5, "ticks": {"size": 6, "thickness": 1.5}},
       "encoding": {"x": {"field": "h", "type": "quantitative", "scale": {"domain": [3.0, 5.9], "nice": false, "zero": false},
         "axis": {"orient": "top", "values": [3,3.1,3.2,3.3,3.4,3.5,3.6,3.7,3.8,3.9,4,4.1,4.2,4.3,4.4,4.5,4.6,4.7,4.8,4.9,5,5.1,5.2,5.3,5.4,5.5,5.6,5.7,5.8], "labels": false, "title": null, "tickSize": {"condition": {"test": "abs(datum.value*2-round(datum.value*2))<0.01", "value": -9}, "value": -4}, "minExtent": 0, "maxExtent": 0}},
        "y": {"field": "n", "type": "quantitative", "title": "Decay Index n", "scale": {"domain": [-0.078, 2.575], "nice": false, "zero": false},
         "axis": {"orient": "right", "values": [0,0.5,1,1.5,2,2.5], "format": ".1f", "title": "Decay Index n", "titleAngle": 270, "titleBaseline": "top", "labelOverlap": false, "tickSize": -12, "labelPadding": 19, "minExtent": 35, "maxExtent": 35, "titlePadding": 2}},
        "yError": {"field": "ne"}}},
      {"data": {"name": "pd"}, "mark": {"type": "errorbar", "color": "#1e8c1e", "opacity": 0.8, "thickness": 1.5, "ticks": {"size": 6, "thickness": 1.5}},
       "encoding": {"x": {"field": "h", "type": "quantitative"}, "y": {"field": "n", "type": "quantitative", "title": "Decay Index n"}, "yError": {"field": "ne"}}},
      {"data": {"name": "pd"}, "mark": {"type": "line", "color": "#ff00ff", "strokeWidth": 1.5, "strokeDash": [2, 3]},
       "encoding": {"x": {"field": "h", "type": "quantitative"}, "y": {"field": "n", "type": "quantitative"}}},
      {"data": {"name": "pd"}, "mark": {"type": "line", "color": "#1e8c1e", "strokeWidth": 1.5, "strokeDash": [8, 4]},
       "encoding": {"x": {"field": "h", "type": "quantitative"}, "y": {"field": "n", "type": "quantitative"}}},
      {"data": {"values": [{"a": 5.021, "b": 5.9, "n": 1.5}]}, "mark": {"type": "rule", "color": "#1e8c1e", "strokeWidth": 2, "strokeDash": [2, 6]},
       "encoding": {"x": {"field": "a", "type": "quantitative"}, "x2": {"field": "b"}, "y": {"field": "n", "type": "quantitative"}}}
     ]},
     {"data": {"name": "pd"}, "mark": {"type": "point", "opacity": 0},
      "encoding": {
       "x": {"field": "h", "type": "quantitative", "scale": {"domain": [3.0, 5.9], "nice": false, "zero": false}, "axis": null},
       "y": {"field": "n", "type": "quantitative", "scale": {"domain": [-0.078, 2.575], "nice": false, "zero": false},
             "axis": {"orient": "right", "values": [0,0.1,0.2,0.3,0.4,0.5,0.6,0.7,0.8,0.9,1,1.1,1.2,1.3,1.4,1.5,1.6,1.7,1.8,1.9,2,2.1,2.2,2.3,2.4,2.5], "labels": false, "title": null, "tickSize": -5, "minExtent": 0, "maxExtent": 0}}}}
    ],
    "resolve": {"scale": {"y": "independent"}, "axis": {"x": "independent", "y": "independent"}}}
   ]}
  ]},
  {"spacing": 4, "hconcat": [
   {"width": 3, "height": 10, "data": {"values": [{}]}, "mark": {"type": "text", "text": ""}, "view": {"stroke": null, "fill": "white"}},
   {"spacing": 5, "hconcat": [
   {"width": 410, "height": 238,
    "layer": [
     {"layer": [
      {"data": {"values": [{"x1": 4.602, "x2": 5.021}]}, "mark": {"type": "rect", "color": "#fdcd9b"},
       "encoding": {"x": {"field": "x1", "type": "quantitative", "scale": {"domain": [3.0, 5.9], "nice": false, "zero": false},
         "axis": {"orient": "bottom", "values": [3,3.5,4,4.5,5,5.5], "format": ".1f", "labelFlush": false, "labelOverlap": false, "title": "log(H)", "tickSize": -9, "labelPadding": 21, "minExtent": 32, "maxExtent": 32, "titlePadding": 1.6}},
        "x2": {"field": "x2"}}},
      {"data": {"name": "pe"}, "mark": {"type": "errorbar", "color": "#0000ff", "thickness": 1.5, "ticks": {"size": 6, "thickness": 1.5}},
       "encoding": {"x": {"field": "h", "type": "quantitative"},
        "y": {"field": "b", "type": "quantitative", "title": "log(B\u2095)", "scale": {"domain": [0.9375, 3.06], "nice": false, "zero": false},
          "axis": {"orient": "left", "values": [1,1.5,2,2.5,3], "format": ".1f", "title": "log(B\u2095)", "labelOverlap": false, "tickSize": -11, "labelPadding": 17, "minExtent": 36, "maxExtent": 36, "titlePadding": 11}},
        "yError": {"field": "be"}}},
      {"data": {"name": "pe"}, "mark": {"type": "errorbar", "color": "#ff0000", "opacity": 0.8, "thickness": 1.5, "ticks": {"size": 6, "thickness": 1.5}},
       "encoding": {"x": {"field": "h", "type": "quantitative"}, "y": {"field": "b", "type": "quantitative", "title": "log(B\u2095)"}, "yError": {"field": "be"}}},
      {"data": {"name": "pe"}, "mark": {"type": "line", "color": "#0000ff", "strokeWidth": 1.5, "strokeDash": [6, 4]},
       "encoding": {"x": {"field": "h", "type": "quantitative"}, "y": {"field": "b", "type": "quantitative"}}},
      {"data": {"name": "pe"}, "mark": {"type": "line", "color": "#ff0000", "strokeWidth": 1.5, "strokeDash": [6, 3, 1.5, 3]},
       "encoding": {"x": {"field": "h", "type": "quantitative"}, "y": {"field": "b", "type": "quantitative"}}},
      {"data": {"values": [{"h": 3.09, "v": 1.065, "s": "(e)", "c": "k"}, {"h": 5.48, "v": 2.89, "s": "XF4", "c": "k"}, {"h": 3.5, "v": 2.148, "s": "n\u0304=1.327", "c": "g"}, {"h": 3.5, "v": 1.928, "s": "n\u0304=1.317", "c": "m"}]},
       "mark": {"type": "text", "fontSize": 22, "align": "left", "baseline": "middle"},
       "encoding": {"x": {"field": "h", "type": "quantitative"}, "y": {"field": "v", "type": "quantitative"}, "text": {"field": "s"},
        "color": {"field": "c", "type": "nominal", "scale": {"domain": ["k", "g", "m"], "range": ["black", "#1e8c1e", "#ff00ff"]}, "legend": null}}}
     ]},
     {"layer": [
      {"data": {"name": "pe"}, "mark": {"type": "errorbar", "color": "#ff00ff", "thickness": 1.5, "ticks": {"size": 6, "thickness": 1.5}},
       "encoding": {"x": {"field": "h", "type": "quantitative", "scale": {"domain": [3.0, 5.9], "nice": false, "zero": false},
         "axis": {"orient": "top", "values": [3,3.1,3.2,3.3,3.4,3.5,3.6,3.7,3.8,3.9,4,4.1,4.2,4.3,4.4,4.5,4.6,4.7,4.8,4.9,5,5.1,5.2,5.3,5.4,5.5,5.6,5.7,5.8], "labels": false, "title": null, "tickSize": {"condition": {"test": "abs(datum.value*2-round(datum.value*2))<0.01", "value": -9}, "value": -4}, "minExtent": 0, "maxExtent": 0}},
        "y": {"field": "n", "type": "quantitative", "title": null, "scale": {"domain": [-0.078, 2.575], "nice": false, "zero": false},
         "axis": {"orient": "right", "values": [0,0.1,0.2,0.3,0.4,0.5,0.6,0.7,0.8,0.9,1,1.1,1.2,1.3,1.4,1.5,1.6,1.7,1.8,1.9,2,2.1,2.2,2.3,2.4,2.5], "labels": false, "title": null, "tickSize": {"condition": {"test": "abs(datum.value*2-round(datum.value*2))<0.01", "value": -12}, "value": -5}, "minExtent": 0, "maxExtent": 0}},
        "yError": {"field": "ne"}}},
      {"data": {"name": "pe"}, "mark": {"type": "errorbar", "color": "#1e8c1e", "opacity": 0.8, "thickness": 1.5, "ticks": {"size": 6, "thickness": 1.5}},
       "encoding": {"x": {"field": "h", "type": "quantitative"}, "y": {"field": "n", "type": "quantitative", "title": null}, "yError": {"field": "ne"}}},
      {"data": {"name": "pe"}, "mark": {"type": "line", "color": "#ff00ff", "strokeWidth": 1.5, "strokeDash": [2, 3]},
       "encoding": {"x": {"field": "h", "type": "quantitative"}, "y": {"field": "n", "type": "quantitative"}}},
      {"data": {"name": "pe"}, "mark": {"type": "line", "color": "#1e8c1e", "strokeWidth": 1.5, "strokeDash": [8, 4]},
       "encoding": {"x": {"field": "h", "type": "quantitative"}, "y": {"field": "n", "type": "quantitative"}}},
      {"data": {"values": [{"a": 5.021, "b": 5.9, "n": 1.5}]}, "mark": {"type": "rule", "color": "#1e8c1e", "strokeWidth": 2, "strokeDash": [2, 6]},
       "encoding": {"x": {"field": "a", "type": "quantitative"}, "x2": {"field": "b"}, "y": {"field": "n", "type": "quantitative"}}}
     ]},
     {"data": {"name": "pe"}, "mark": {"type": "point", "opacity": 0},
      "encoding": {
       "x": {"field": "h", "type": "quantitative", "scale": {"domain": [3.0, 5.9], "nice": false, "zero": false},
             "axis": {"orient": "bottom", "values": [3,3.1,3.2,3.3,3.4,3.5,3.6,3.7,3.8,3.9,4,4.1,4.2,4.3,4.4,4.5,4.6,4.7,4.8,4.9,5,5.1,5.2,5.3,5.4,5.5,5.6,5.7,5.8], "labels": false, "title": null, "tickSize": -4, "minExtent": 0, "maxExtent": 0}},
       "y": {"field": "b", "type": "quantitative", "scale": {"domain": [0.9375, 3.06], "nice": false, "zero": false},
             "axis": {"orient": "left", "values": [1,1.1,1.2,1.3,1.4,1.5,1.6,1.7,1.8,1.9,2,2.1,2.2,2.3,2.4,2.5,2.6,2.7,2.8,2.9,3], "labels": false, "title": null, "tickSize": -5, "minExtent": 0, "maxExtent": 0}}}}
    ],
    "resolve": {"scale": {"y": "independent"}, "axis": {"x": "independent", "y": "independent"}}},
   {"width": 410, "height": 238,
    "layer": [
     {"layer": [
      {"data": {"values": [{"x1": 4.602, "x2": 5.021}]}, "mark": {"type": "rect", "color": "#fdcd9b"},
       "encoding": {"x": {"field": "x1", "type": "quantitative", "scale": {"domain": [3.0, 5.9], "nice": false, "zero": false},
         "axis": {"orient": "bottom", "values": [3,3.5,4,4.5,5,5.5], "format": ".1f", "labelFlush": false, "labelOverlap": false, "title": "log(H)", "tickSize": -9, "labelPadding": 21, "minExtent": 32, "maxExtent": 32, "titlePadding": 1.6}},
        "x2": {"field": "x2"}}},
      {"data": {"name": "pf"}, "mark": {"type": "errorbar", "color": "#0000ff", "thickness": 1.5, "ticks": {"size": 6, "thickness": 1.5}},
       "encoding": {"x": {"field": "h", "type": "quantitative"},
        "y": {"field": "b", "type": "quantitative", "title": null, "scale": {"domain": [0.9375, 3.06], "nice": false, "zero": false},
          "axis": {"orient": "left", "values": [1,1.1,1.2,1.3,1.4,1.5,1.6,1.7,1.8,1.9,2,2.1,2.2,2.3,2.4,2.5,2.6,2.7,2.8,2.9,3], "labels": false, "title": null, "tickSize": {"condition": {"test": "abs(datum.value*2-round(datum.value*2))<0.01", "value": -11}, "value": -5}, "minExtent": 0, "maxExtent": 0}},
        "yError": {"field": "be"}}},
      {"data": {"name": "pf"}, "mark": {"type": "errorbar", "color": "#ff0000", "opacity": 0.8, "thickness": 1.5, "ticks": {"size": 6, "thickness": 1.5}},
       "encoding": {"x": {"field": "h", "type": "quantitative"}, "y": {"field": "b", "type": "quantitative", "title": null}, "yError": {"field": "be"}}},
      {"data": {"name": "pf"}, "mark": {"type": "line", "color": "#0000ff", "strokeWidth": 1.5, "strokeDash": [6, 4]},
       "encoding": {"x": {"field": "h", "type": "quantitative"}, "y": {"field": "b", "type": "quantitative"}}},
      {"data": {"name": "pf"}, "mark": {"type": "line", "color": "#ff0000", "strokeWidth": 1.5, "strokeDash": [6, 3, 1.5, 3]},
       "encoding": {"x": {"field": "h", "type": "quantitative"}, "y": {"field": "b", "type": "quantitative"}}},
      {"data": {"values": [{"h": 3.09, "v": 1.065, "s": "(f)", "c": "k"}, {"h": 5.48, "v": 2.89, "s": "XF5", "c": "k"}, {"h": 3.5, "v": 2.148, "s": "n\u0304=1.279", "c": "g"}, {"h": 3.5, "v": 1.928, "s": "n\u0304=1.269", "c": "m"}]},
       "mark": {"type": "text", "fontSize": 22, "align": "left", "baseline": "middle"},
       "encoding": {"x": {"field": "h", "type": "quantitative"}, "y": {"field": "v", "type": "quantitative"}, "text": {"field": "s"},
        "color": {"field": "c", "type": "nominal", "scale": {"domain": ["k", "g", "m"], "range": ["black", "#1e8c1e", "#ff00ff"]}, "legend": null}}}
     ]},
     {"layer": [
      {"data": {"name": "pf"}, "mark": {"type": "errorbar", "color": "#ff00ff", "thickness": 1.5, "ticks": {"size": 6, "thickness": 1.5}},
       "encoding": {"x": {"field": "h", "type": "quantitative", "scale": {"domain": [3.0, 5.9], "nice": false, "zero": false},
         "axis": {"orient": "top", "values": [3,3.1,3.2,3.3,3.4,3.5,3.6,3.7,3.8,3.9,4,4.1,4.2,4.3,4.4,4.5,4.6,4.7,4.8,4.9,5,5.1,5.2,5.3,5.4,5.5,5.6,5.7,5.8], "labels": false, "title": null, "tickSize": {"condition": {"test": "abs(datum.value*2-round(datum.value*2))<0.01", "value": -9}, "value": -4}, "minExtent": 0, "maxExtent": 0}},
        "y": {"field": "n", "type": "quantitative", "title": "Decay Index n", "scale": {"domain": [-0.078, 2.575], "nice": false, "zero": false},
         "axis": {"orient": "right", "values": [0,0.5,1,1.5,2,2.5], "format": ".1f", "title": "Decay Index n", "titleAngle": 270, "titleBaseline": "top", "labelOverlap": false, "tickSize": -12, "labelPadding": 19, "minExtent": 35, "maxExtent": 35, "titlePadding": 2}},
        "yError": {"field": "ne"}}},
      {"data": {"name": "pf"}, "mark": {"type": "errorbar", "color": "#1e8c1e", "opacity": 0.8, "thickness": 1.5, "ticks": {"size": 6, "thickness": 1.5}},
       "encoding": {"x": {"field": "h", "type": "quantitative"}, "y": {"field": "n", "type": "quantitative", "title": "Decay Index n"}, "yError": {"field": "ne"}}},
      {"data": {"name": "pf"}, "mark": {"type": "line", "color": "#ff00ff", "strokeWidth": 1.5, "strokeDash": [2, 3]},
       "encoding": {"x": {"field": "h", "type": "quantitative"}, "y": {"field": "n", "type": "quantitative"}}},
      {"data": {"name": "pf"}, "mark": {"type": "line", "color": "#1e8c1e", "strokeWidth": 1.5, "strokeDash": [8, 4]},
       "encoding": {"x": {"field": "h", "type": "quantitative"}, "y": {"field": "n", "type": "quantitative"}}},
      {"data": {"values": [{"a": 5.021, "b": 5.9, "n": 1.5}]}, "mark": {"type": "rule", "color": "#1e8c1e", "strokeWidth": 2, "strokeDash": [2, 6]},
       "encoding": {"x": {"field": "a", "type": "quantitative"}, "x2": {"field": "b"}, "y": {"field": "n", "type": "quantitative"}}}
     ]},
     {"data": {"name": "pf"}, "mark": {"type": "point", "opacity": 0},
      "encoding": {
       "x": {"field": "h", "type": "quantitative", "scale": {"domain": [3.0, 5.9], "nice": false, "zero": false},
             "axis": {"orient": "bottom", "values": [3,3.1,3.2,3.3,3.4,3.5,3.6,3.7,3.8,3.9,4,4.1,4.2,4.3,4.4,4.5,4.6,4.7,4.8,4.9,5,5.1,5.2,5.3,5.4,5.5,5.6,5.7,5.8], "labels": false, "title": null, "tickSize": -4, "minExtent": 0, "maxExtent": 0}},
       "y": {"field": "n", "type": "quantitative", "scale": {"domain": [-0.078, 2.575], "nice": false, "zero": false},
             "axis": {"orient": "right", "values": [0,0.1,0.2,0.3,0.4,0.5,0.6,0.7,0.8,0.9,1,1.1,1.2,1.3,1.4,1.5,1.6,1.7,1.8,1.9,2,2.1,2.2,2.3,2.4,2.5], "labels": false, "title": null, "tickSize": -5, "minExtent": 0, "maxExtent": 0}}}}
    ],
    "resolve": {"scale": {"y": "independent"}, "axis": {"x": "independent", "y": "independent"}}}
   ]}
  ]}
 ]}
]
}
